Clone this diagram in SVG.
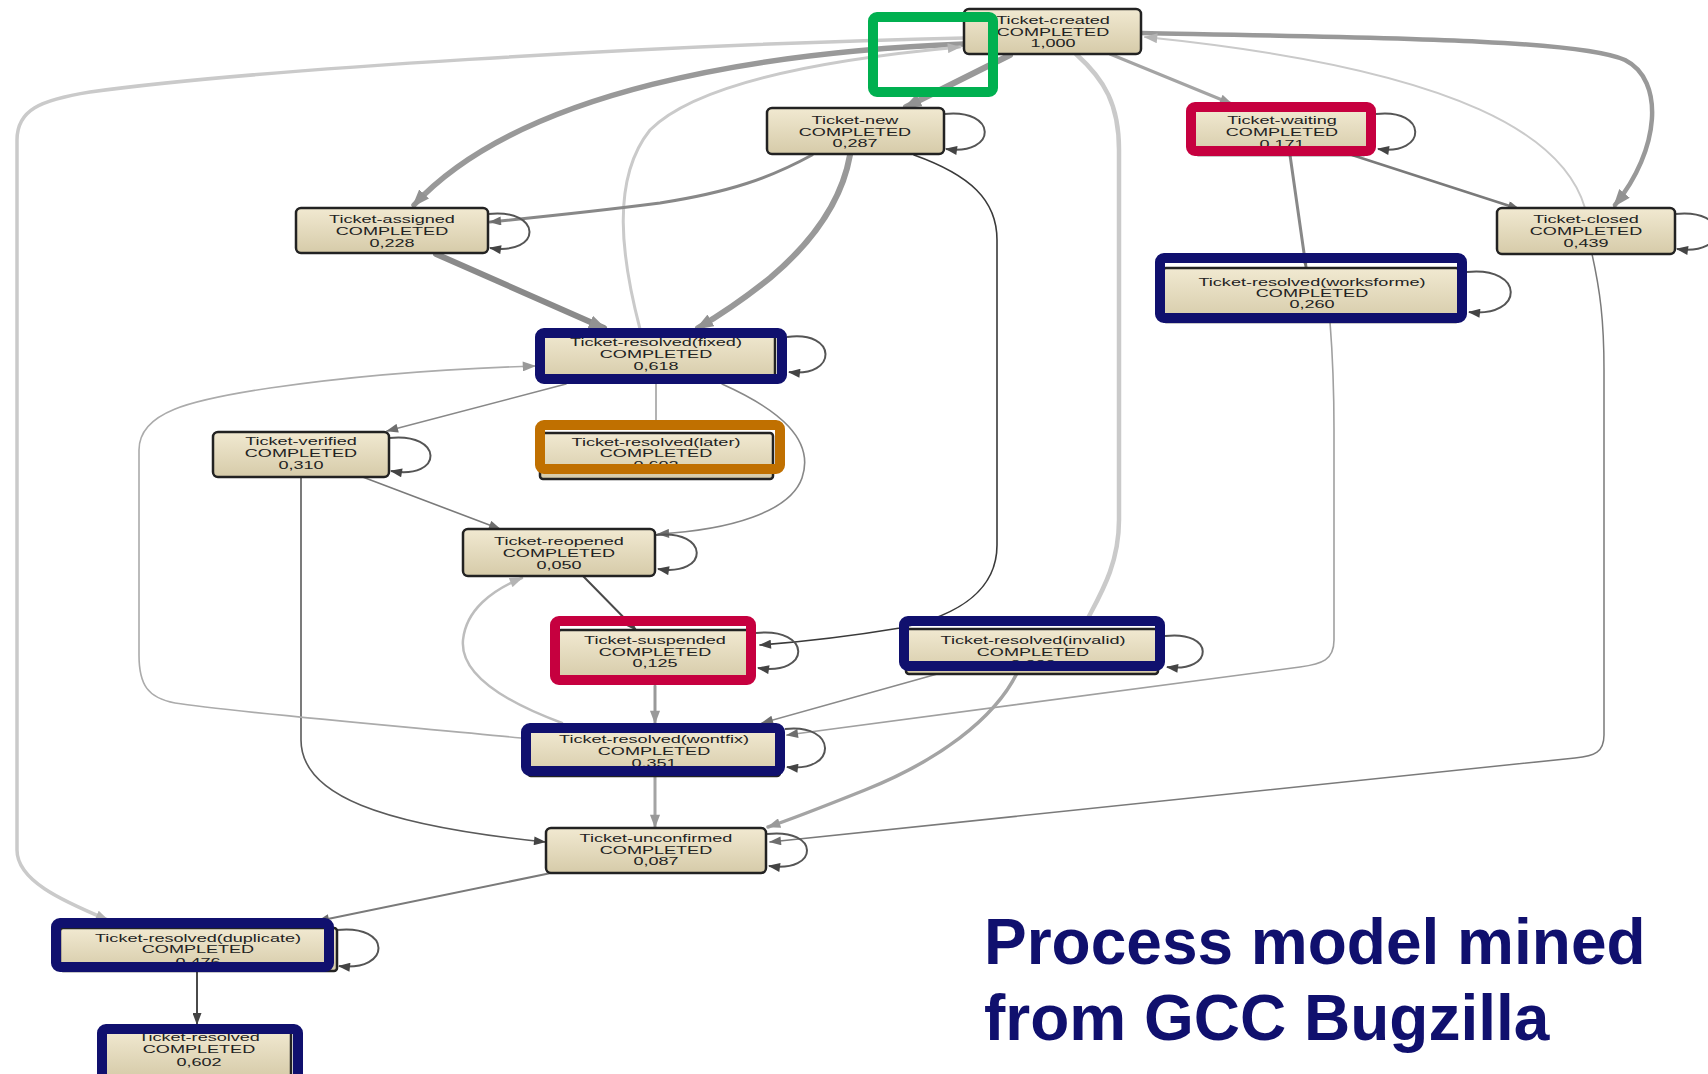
<svg xmlns="http://www.w3.org/2000/svg" width="1708" height="1074" viewBox="0 0 1708 1074">
  <defs>
    <linearGradient id="beige" x1="0" y1="0" x2="0" y2="1">
      <stop offset="0" stop-color="#f1e9d1"/>
      <stop offset="1" stop-color="#d6cba9"/>
    </linearGradient>
    <marker id="aDark" viewBox="0 0 12 9" refX="11" refY="4.5" markerWidth="13" markerHeight="9" markerUnits="userSpaceOnUse" orient="auto">
      <path d="M0,0 L12,4.5 L0,9 z" fill="#444"/>
    </marker>
    <marker id="aMid" viewBox="0 0 12 9" refX="11" refY="4.5" markerWidth="13" markerHeight="9" markerUnits="userSpaceOnUse" orient="auto">
      <path d="M0,0 L12,4.5 L0,9 z" fill="#6e6e6e"/>
    </marker>
    <marker id="aGray" viewBox="0 0 12 9" refX="11" refY="4.5" markerWidth="14" markerHeight="10" markerUnits="userSpaceOnUse" orient="auto">
      <path d="M0,0 L12,4.5 L0,9 z" fill="#999"/>
    </marker>
    <marker id="aLight" viewBox="0 0 12 9" refX="11" refY="4.5" markerWidth="14" markerHeight="10" markerUnits="userSpaceOnUse" orient="auto">
      <path d="M0,0 L12,4.5 L0,9 z" fill="#b4b4b4"/>
    </marker>
    <marker id="aBig" viewBox="0 0 12 9" refX="10" refY="4.5" markerWidth="18" markerHeight="14" markerUnits="userSpaceOnUse" orient="auto">
      <path d="M0,0 L12,4.5 L0,9 z" fill="#929292"/>
    </marker>
  </defs>
  <style>
    .e { fill: none; stroke-linecap: round; }
    .dark { stroke: #4a4a4a; stroke-width: 1.6; }
    .mid { stroke: #7a7a7a; stroke-width: 2; }
    .mid3 { stroke: #888; stroke-width: 3; }
    .gray { stroke: #a4a4a4; stroke-width: 3; }
    .thin { stroke: #a0a0a0; stroke-width: 1.6; }
    .light { stroke: #cacaca; stroke-width: 3; }
    .thick { stroke: #999; stroke-width: 5.5; }
    .loop { fill: none; stroke: #555; stroke-width: 2; }
    .box { fill: url(#beige); stroke: #222; stroke-width: 2.5; }
    .t { font-family: "Liberation Sans", Arial, sans-serif; font-size: 10.5px; fill: #222; text-anchor: middle;
         transform-box: fill-box; transform-origin: center; transform: scaleX(1.72); }
    .frame { fill: none; stroke-width: 10; }
    .navy { stroke: #10106e; }
    .red { stroke: #c6003f; }
    .orange { stroke: #c07000; }
    .green { stroke: #00b050; }
    .title { font-family: "Liberation Sans", Arial, sans-serif; font-weight: bold; font-size: 64px; fill: #10106e; }
  </style>

  <rect width="1708" height="1074" fill="#fff"/>

  <!-- transitions between activities -->
  <g id="connectors">
    <path class="e light" style="stroke-width:3.5" marker-end="url(#aLight)" d="M964,38 C650,45 250,70 90,92 C40,100 17,110 17,140 L17,850 C17,880 60,900 108,920"/>
    <path class="e thick" marker-end="url(#aBig)" d="M964,44 C760,52 520,90 414,205"/>
    <path class="e light" marker-end="url(#aLight)" d="M640,329 C622,260 610,180 650,130 C700,80 840,58 960,47"/>
    <path class="e thick" style="stroke-width:6" marker-end="url(#aBig)" d="M1010,55 C970,75 940,90 906,107"/>
    <path class="e light" style="stroke-width:4.5" d="M1076,54 C1105,80 1119,105 1119,150 L1119,520 C1119,565 1100,595 1086,622"/>
    <path class="e thick" style="stroke-width:4.5" marker-end="url(#aBig)" d="M1141,33 C1400,38 1580,40 1625,60 C1665,80 1660,150 1615,205"/>
    <path class="e light" style="stroke-width:2" marker-end="url(#aLight)" d="M1585,208 C1565,140 1470,70 1145,37"/>
    <path class="e mid" style="stroke-width:1.5" marker-end="url(#aMid)" d="M1592,254 C1600,290 1604,320 1604,370 L1604,735 C1604,752 1595,756 1575,758 L770,842"/>
    <path class="e gray" marker-end="url(#aGray)" d="M1110,54 L1232,104"/>
    <path class="e mid" style="stroke-width:2.5" marker-end="url(#aMid)" d="M1352,155 L1519,209"/>
    <path class="e mid3" marker-end="url(#aMid)" d="M1290,155 L1306,267"/>
    <path class="e thin" marker-end="url(#aMid)" d="M1330,322 C1333,360 1334,390 1334,430 L1334,640 C1334,660 1322,664 1300,667 L787,735"/>
    <path class="e mid3" marker-end="url(#aMid)" d="M812,155 C770,178 730,192 660,203 C590,212 530,218 490,222"/>
    <path class="e thick" style="stroke-width:6" marker-end="url(#aBig)" d="M850,155 C842,200 815,240 770,278 C740,302 720,315 698,328"/>
    <path class="e dark" style="stroke:#3a3a3a" marker-end="url(#aDark)" d="M914,155 C970,175 997,200 997,240 L997,545 C997,590 960,615 900,628 C840,638 800,642 760,645"/>
    <path class="e thick" style="stroke:#8a8a8a;stroke-width:6" marker-end="url(#aBig)" d="M436,254 L604,328"/>
    <path class="e mid" style="stroke:#888;stroke-width:1.6" marker-end="url(#aMid)" d="M566,384 L387,431"/>
    <path class="e thin" d="M656,384 L656,420"/>
    <path class="e mid" style="stroke:#888;stroke-width:1.6" marker-end="url(#aMid)" d="M722,384 C780,410 815,440 802,478 C790,512 730,530 658,534"/>
    <path class="e mid" style="stroke-width:1.6" marker-end="url(#aMid)" d="M360,476 L500,529"/>
    <path class="e dark" style="stroke:#5a5a5a" marker-end="url(#aDark)" d="M301,477 L301,740 C301,795 380,825 545,842"/>
    <path class="e thin" style="stroke:#ababab" marker-end="url(#aGray)" d="M521,738 C420,728 230,712 175,703 C148,698 139,685 139,655 L139,450 C139,412 190,400 270,388 C380,372 470,368 535,366"/>
    <path class="e light" style="stroke:#bdbdbd;stroke-width:2.5" marker-end="url(#aLight)" d="M562,723 C500,700 460,672 463,640 C466,610 492,590 522,578"/>
    <path class="e dark" style="stroke-width:2" marker-end="url(#aDark)" d="M583,576 L636,630"/>
    <path class="e gray" style="stroke:#999" marker-end="url(#aGray)" d="M655,686 L655,723"/>
    <path class="e mid" style="stroke:#8a8a8a;stroke-width:1.6" marker-end="url(#aMid)" d="M948,671 L762,723"/>
    <path class="e gray" style="stroke-width:3.5" marker-end="url(#aGray)" d="M1018,671 C995,720 935,762 865,790 C825,806 795,818 768,827"/>
    <path class="e gray" marker-end="url(#aGray)" d="M655,776 L655,827"/>
    <path class="e mid" marker-end="url(#aMid)" d="M551,873 L318,921"/>
    <path class="e dark" style="stroke-width:2" marker-end="url(#aDark)" d="M197,972 L197,1024"/>

    <!-- self loops -->
    <path class="loop" marker-end="url(#aDark)" d="M944,114 C998,108 998,156 946,149"/>
    <path class="loop" marker-end="url(#aDark)" d="M488,214 C543,208 543,256 490,248"/>
    <path class="loop" marker-end="url(#aDark)" d="M1376,114 C1428,108 1428,156 1378,149"/>
    <path class="loop" marker-end="url(#aDark)" d="M1675,214 C1730,208 1730,256 1677,249"/>
    <path class="loop" marker-end="url(#aDark)" d="M1467,272 C1525,266 1525,318 1469,312"/>
    <path class="loop" marker-end="url(#aDark)" d="M787,337 C838,330 838,378 789,372"/>
    <path class="loop" marker-end="url(#aDark)" d="M389,438 C444,432 444,480 391,471"/>
    <path class="loop" marker-end="url(#aDark)" d="M656,535 C710,529 710,577 658,569"/>
    <path class="loop" marker-end="url(#aDark)" d="M756,633 C812,627 812,676 758,668"/>
    <path class="loop" marker-end="url(#aDark)" d="M1165,636 C1215,630 1215,673 1167,667"/>
    <path class="loop" marker-end="url(#aDark)" d="M785,729 C838,723 838,773 787,767"/>
    <path class="loop" marker-end="url(#aDark)" d="M767,834 C820,828 820,873 769,866"/>
    <path class="loop" marker-end="url(#aDark)" d="M337,930 C392,924 392,972 339,966"/>
  </g>

  <!-- activities -->
  <g id="ticket-created">
    <rect class="box" x="964" y="9" width="177" height="45" rx="5"/>
    <text class="t" x="1053" y="24">Ticket-created</text>
    <text class="t" x="1053" y="36">COMPLETED</text>
    <text class="t" x="1053" y="47">1,000</text>
  </g>
  <g id="ticket-new">
    <rect class="box" x="767" y="108" width="177" height="46" rx="5"/>
    <text class="t" x="855" y="124">Ticket-new</text>
    <text class="t" x="855" y="136">COMPLETED</text>
    <text class="t" x="855" y="147">0,287</text>
  </g>
  <g id="ticket-assigned">
    <rect class="box" x="296" y="208" width="192" height="45" rx="5"/>
    <text class="t" x="392" y="223">Ticket-assigned</text>
    <text class="t" x="392" y="235">COMPLETED</text>
    <text class="t" x="392" y="247">0,228</text>
  </g>
  <g id="ticket-waiting">
    <rect class="box" x="1193" y="109" width="176" height="46" rx="5"/>
    <text class="t" x="1282" y="124">Ticket-waiting</text>
    <text class="t" x="1282" y="136">COMPLETED</text>
    <text class="t" x="1282" y="148">0,171</text>
    <rect class="frame red" x="1191" y="107" width="180" height="44" rx="4"/>
  </g>
  <g id="ticket-closed">
    <rect class="box" x="1497" y="208" width="178" height="46" rx="5"/>
    <text class="t" x="1586" y="223">Ticket-closed</text>
    <text class="t" x="1586" y="235">COMPLETED</text>
    <text class="t" x="1586" y="247">0,439</text>
  </g>
  <g id="ticket-resolved-worksforme">
    <rect class="box" x="1163" y="268" width="296" height="54" rx="3"/>
    <text class="t" x="1312" y="286">Ticket-resolved(worksforme)</text>
    <text class="t" x="1312" y="297">COMPLETED</text>
    <text class="t" x="1312" y="308">0,260</text>
    <rect class="frame navy" x="1160" y="258" width="302" height="60" rx="4"/>
  </g>
  <g id="ticket-resolved-fixed">
    <rect class="box" x="538" y="331" width="237" height="50" rx="3"/>
    <text class="t" x="656" y="346">Ticket-resolved(fixed)</text>
    <text class="t" x="656" y="358">COMPLETED</text>
    <text class="t" x="656" y="370">0,618</text>
    <rect class="frame navy" x="540" y="333" width="242" height="46" rx="4"/>
  </g>
  <g id="ticket-verified">
    <rect class="box" x="213" y="432" width="176" height="45" rx="5"/>
    <text class="t" x="301" y="445">Ticket-verified</text>
    <text class="t" x="301" y="457">COMPLETED</text>
    <text class="t" x="301" y="469">0,310</text>
  </g>
  <g id="ticket-resolved-later">
    <rect class="box" x="540" y="433" width="233" height="46" rx="3"/>
    <text class="t" x="656" y="446">Ticket-resolved(later)</text>
    <text class="t" x="656" y="457">COMPLETED</text>
    <text class="t" x="656" y="469">0,602</text>
    <rect class="frame orange" x="540" y="425" width="240" height="44" rx="4"/>
  </g>
  <g id="ticket-reopened">
    <rect class="box" x="463" y="529" width="192" height="47" rx="5"/>
    <text class="t" x="559" y="545">Ticket-reopened</text>
    <text class="t" x="559" y="557">COMPLETED</text>
    <text class="t" x="559" y="569">0,050</text>
  </g>
  <g id="ticket-suspended">
    <rect class="box" x="558" y="630" width="196" height="50" rx="3"/>
    <text class="t" x="655" y="644">Ticket-suspended</text>
    <text class="t" x="655" y="656">COMPLETED</text>
    <text class="t" x="655" y="667">0,125</text>
    <rect class="frame red" x="555" y="621" width="196" height="59" rx="4"/>
  </g>
  <g id="ticket-resolved-invalid">
    <rect class="box" x="906" y="629" width="252" height="45" rx="3"/>
    <text class="t" x="1033" y="644">Ticket-resolved(invalid)</text>
    <text class="t" x="1033" y="656">COMPLETED</text>
    <text class="t" x="1033" y="668">0,000</text>
    <rect class="frame navy" x="904" y="621" width="256" height="45" rx="4"/>
  </g>
  <g id="ticket-resolved-wontfix">
    <rect class="box" x="528" y="730" width="252" height="46" rx="3"/>
    <text class="t" x="654" y="743">Ticket-resolved(wontfix)</text>
    <text class="t" x="654" y="755">COMPLETED</text>
    <text class="t" x="654" y="767">0,351</text>
    <rect class="frame navy" x="526" y="728" width="254" height="43" rx="4"/>
  </g>
  <g id="ticket-unconfirmed">
    <rect class="box" x="546" y="828" width="220" height="45" rx="5"/>
    <text class="t" x="656" y="842">Ticket-unconfirmed</text>
    <text class="t" x="656" y="854">COMPLETED</text>
    <text class="t" x="656" y="865">0,087</text>
  </g>
  <g id="ticket-resolved-duplicate">
    <rect class="box" x="60" y="928" width="277" height="43" rx="3"/>
    <text class="t" x="198" y="942">Ticket-resolved(duplicate)</text>
    <text class="t" x="198" y="953">COMPLETED</text>
    <text class="t" x="198" y="966">0,476</text>
    <rect class="frame navy" x="56" y="923" width="273" height="44" rx="4"/>
  </g>
  <g id="ticket-resolved">
    <rect class="box" x="102" y="1030" width="189" height="48" rx="3"/>
    <text class="t" x="199" y="1041">Ticket-resolved</text>
    <text class="t" x="199" y="1053">COMPLETED</text>
    <text class="t" x="199" y="1066">0,602</text>
    <rect class="frame navy" x="102" y="1029" width="196" height="50" rx="4"/>
  </g>

  <!-- start marker around the initial activity -->
  <rect class="frame green" x="873" y="17" width="120" height="75" rx="4"/>

  <g id="caption">
    <text class="title" x="984" y="964">Process model mined</text>
    <text class="title" x="984" y="1040">from GCC Bugzilla</text>
  </g>
</svg>
